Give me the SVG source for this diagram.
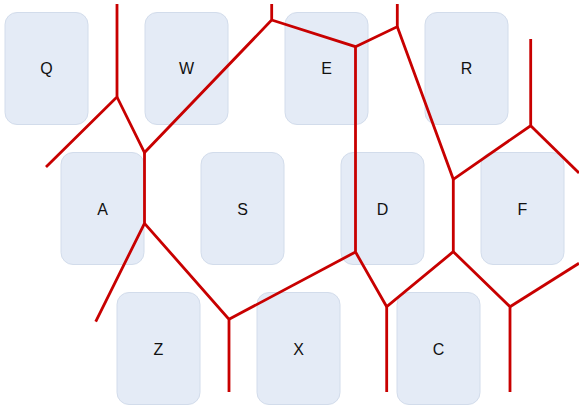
<svg xmlns="http://www.w3.org/2000/svg" width="579" height="412" viewBox="0 0 579 412">
<style>
.key rect{fill:#E4EBF6;stroke:#D2DCEB;stroke-width:1}
.key text{font-family:"Liberation Sans",Arial,sans-serif;font-size:16px;fill:#111111;text-anchor:middle}
.edges path{fill:none;stroke:#C80000;stroke-width:2.8;stroke-linejoin:miter;stroke-linecap:butt}
</style>
<rect width="579" height="412" fill="#ffffff"/>
<g id="key-Q" class="key"><rect x="5" y="12.5" width="83" height="112" rx="12"/><text x="46.5" y="74">Q</text></g>
<g id="key-W" class="key"><rect x="145" y="12.5" width="83" height="112" rx="12"/><text x="186.5" y="74">W</text></g>
<g id="key-E" class="key"><rect x="285" y="12.5" width="83" height="112" rx="12"/><text x="326.5" y="74">E</text></g>
<g id="key-R" class="key"><rect x="425" y="12.5" width="83" height="112" rx="12"/><text x="466.5" y="74">R</text></g>
<g id="key-A" class="key"><rect x="61" y="152.5" width="83" height="112" rx="12"/><text x="102.5" y="214.5">A</text></g>
<g id="key-S" class="key"><rect x="201" y="152.5" width="83" height="112" rx="12"/><text x="242.5" y="214.5">S</text></g>
<g id="key-D" class="key"><rect x="341" y="152.5" width="83" height="112" rx="12"/><text x="382.5" y="214.5">D</text></g>
<g id="key-F" class="key"><rect x="481" y="152.5" width="83" height="112" rx="12"/><text x="522.5" y="214.5">F</text></g>
<g id="key-Z" class="key"><rect x="117" y="292.5" width="83" height="112" rx="12"/><text x="158.5" y="354.5">Z</text></g>
<g id="key-X" class="key"><rect x="257" y="292.5" width="83" height="112" rx="12"/><text x="298.5" y="354.5">X</text></g>
<g id="key-C" class="key"><rect x="397" y="292.5" width="83" height="112" rx="12"/><text x="438.5" y="354.5">C</text></g>
<g id="connectors" class="edges">
<path d="M117,4 L117,97 L46,167"/>
<path d="M117,97 L144.5,152.5 L271.7,20 L271.7,4"/>
<path d="M271.7,20 L355.5,46.7 L397.3,26.7 L397.3,4"/>
<path d="M397.3,26.7 L453.3,179.3 L530.7,125.7 L530.7,39"/>
<path d="M530.7,125.7 L579,173"/>
<path d="M453.3,179.3 L453.3,251.7 L386.7,306.7 L386.7,392"/>
<path d="M355.5,46.7 L355.5,252 L386.7,306.7"/>
<path d="M144.5,152.5 L144.5,223.3 L95.7,321.7"/>
<path d="M144.5,223.3 L229,319.3 L229,392"/>
<path d="M229,319.3 L355.5,252"/>
<path d="M453.3,251.7 L510,306.7 L510,392"/>
<path d="M510,306.7 L579,263.3"/>
</g>
</svg>
